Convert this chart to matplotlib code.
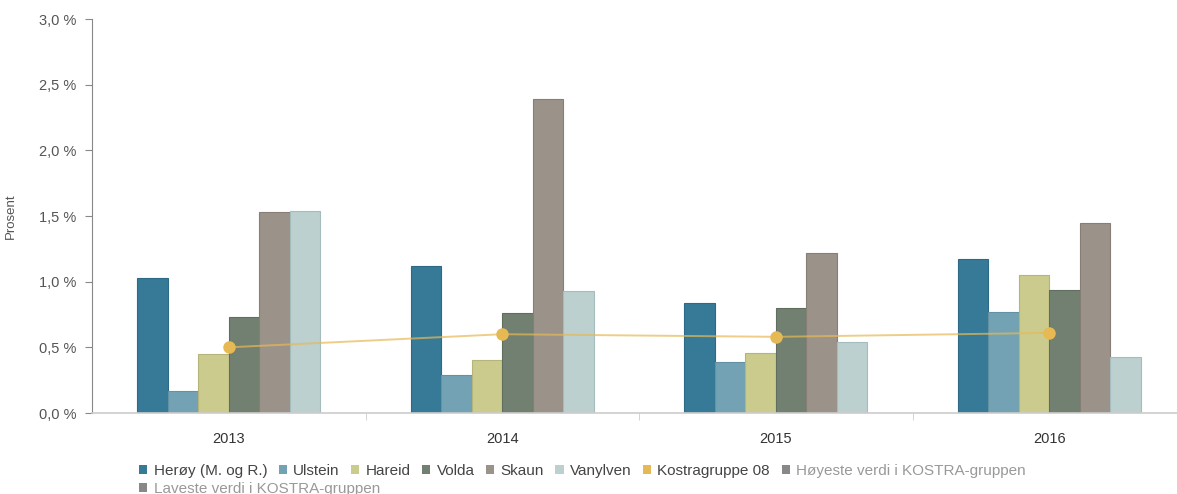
import matplotlib.pyplot as plt
import numpy as np
from matplotlib.patches import Patch
from matplotlib.ticker import FixedLocator, FuncFormatter

plt.rcParams["font.family"] = ["Liberation Sans", "DejaVu Sans"]

years = ["2013", "2014", "2015", "2016"]
herøy = [1.03, 1.12, 0.84, 1.17]
ulstein = [0.17, 0.29, 0.39, 0.77]
hareid = [0.45, 0.40, 0.46, 1.05]
volda = [0.73, 0.76, 0.80, 0.94]
skaun = [1.53, 2.39, 1.22, 1.45]
vanylven = [1.54, 0.93, 0.54, 0.43]
kostra08 = [0.50, 0.60, 0.58, 0.61]

series_names = ["Herøy (M. og R.)", "Ulstein", "Hareid", "Volda", "Skaun", "Vanylven"]
series_values = [herøy, ulstein, hareid, volda, skaun, vanylven]
fill_colors = ["#367a98", "#72a2b3", "#cccb8e", "#718070", "#9b9389", "#bcd0d0"]
edge_colors = ["#2e6985", "#6492a3", "#b5b47a", "#5f6e5f", "#877f76", "#a5bcbc"]
line_color = "#e6b955"

W, H = 1177, 494
fig = plt.figure(figsize=(W / 100, H / 100), dpi=100)
ax = fig.add_axes([92 / W, (H - 413) / H, 1094 / W, 394 / H])

x = np.arange(len(years))
bw = 0.1117
for i, (name, vals) in enumerate(zip(series_names, series_values)):
    ax.bar(x + (i - 2.5) * bw, vals, width=bw, color=fill_colors[i],
           edgecolor=edge_colors[i], linewidth=0.8, zorder=2)

ax.plot(x, kostra08, color=line_color, alpha=0.7, linewidth=1.4, zorder=3)
ax.plot(x, kostra08, "o", color=line_color, markersize=9, markeredgewidth=0, zorder=4)

ax.set_xlim(-0.5, len(years) - 0.5)
ax.set_ylim(0, 3.0)
ax.set_yticks(np.arange(0, 3.01, 0.5))
ax.yaxis.set_major_formatter(FuncFormatter(lambda v, p: f"{v:.1f} %".replace(".", ",")))
ax.set_xticks(x)
ax.set_xticklabels(years)
ax.xaxis.set_minor_locator(FixedLocator(x[:-1] + 0.5))
ax.tick_params(axis="x", which="major", length=0, pad=14, labelsize=10.5, labelcolor="#333333")
ax.tick_params(axis="x", which="minor", length=5, color="#cccccc")
ax.tick_params(axis="y", length=5, color="#888888", labelsize=10.5, labelcolor="#555555", pad=6)
ax.set_ylabel("Prosent", fontsize=9.5, color="#555555", labelpad=16)

for s in ["top", "right"]:
    ax.spines[s].set_visible(False)
ax.spines["left"].set_color("#888888")
ax.spines["bottom"].set_color("#cccccc")
ax.spines["bottom"].set_linewidth(1.2)

handles = [Patch(facecolor=c, edgecolor="none") for c in fill_colors]
handles.append(Patch(facecolor=line_color, edgecolor="none"))
handles.append(Patch(facecolor="#888888", edgecolor="none"))
labels = series_names + ["Kostragruppe 08", "Høyeste verdi i KOSTRA-gruppen"]
leg1 = fig.legend(handles, labels, ncol=len(labels), loc="upper left",
                  bbox_to_anchor=(139 / W, 1 - 464 / H), frameon=False, fontsize=11,
                  handlelength=0.55, handleheight=0.55, handletextpad=0.4,
                  columnspacing=0.75, borderaxespad=0, borderpad=0)
for t in leg1.get_texts():
    t.set_color("#444444")
leg1.get_texts()[-1].set_color("#999999")

leg2 = fig.legend([Patch(facecolor="#888888", edgecolor="none")],
                  ["Laveste verdi i KOSTRA-gruppen"], loc="upper left",
                  bbox_to_anchor=(139 / W, 1 - 482 / H), frameon=False, fontsize=11,
                  handlelength=0.55, handleheight=0.55, handletextpad=0.4,
                  borderaxespad=0, borderpad=0)
leg2.get_texts()[0].set_color("#999999")

fig.savefig("out.png", dpi=100)
